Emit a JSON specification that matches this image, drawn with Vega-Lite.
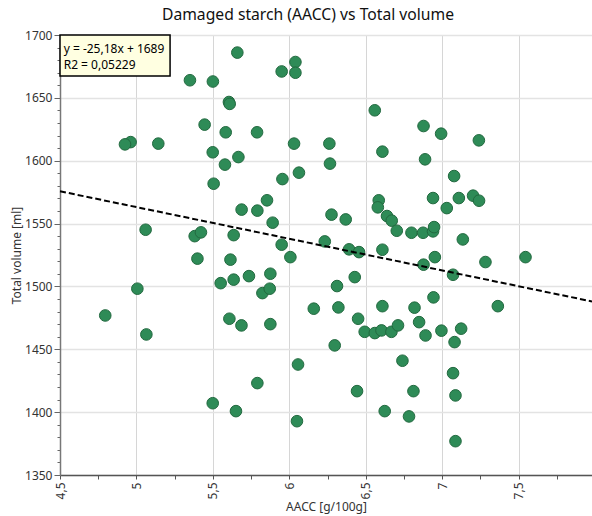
{
  "$schema": "https://vega.github.io/schema/vega-lite/v6.json",
  "width": 532,
  "height": 440,
  "autosize": {"type": "none"},
  "padding": {"left": 60, "top": 35, "right": 0, "bottom": 41},
  "title": {
    "text": "Damaged starch (AACC) vs Total volume",
    "fontSize": 15.7,
    "fontWeight": "normal",
    "color": "#111111",
    "dx": -18,
    "offset": 5
  },
  "config": {
    "view": {"stroke": null},
    "font": "Noto Sans",
    "axis": {"labelOverlap": false, "labelBound": false, "labelFlush": false}
  },
  "datasets": {
    "samples": [
      {"aacc": 5.66, "volume": 1686}, {"aacc": 6.04, "volume": 1678.5}, {"aacc": 5.95, "volume": 1671},
      {"aacc": 6.04, "volume": 1670}, {"aacc": 5.35, "volume": 1664}, {"aacc": 5.50, "volume": 1663},
      {"aacc": 5.605, "volume": 1646.7}, {"aacc": 5.61, "volume": 1645.2}, {"aacc": 5.446, "volume": 1628.7},
      {"aacc": 5.584, "volume": 1622.6}, {"aacc": 5.789, "volume": 1622.6}, {"aacc": 4.962, "volume": 1614.8},
      {"aacc": 4.925, "volume": 1613}, {"aacc": 5.143, "volume": 1613.6}, {"aacc": 6.031, "volume": 1613.6},
      {"aacc": 5.499, "volume": 1606.7}, {"aacc": 5.667, "volume": 1602.9}, {"aacc": 5.579, "volume": 1596.9},
      {"aacc": 6.063, "volume": 1590.5}, {"aacc": 5.955, "volume": 1585.4}, {"aacc": 5.505, "volume": 1581.7},
      {"aacc": 5.854, "volume": 1568.5}, {"aacc": 5.688, "volume": 1561.1}, {"aacc": 5.791, "volume": 1560.3},
      {"aacc": 5.891, "volume": 1550.7}, {"aacc": 5.06, "volume": 1545.1}, {"aacc": 5.381, "volume": 1540},
      {"aacc": 5.422, "volume": 1543}, {"aacc": 5.636, "volume": 1540.8}, {"aacc": 5.95, "volume": 1533.2},
      {"aacc": 6.559, "volume": 1640.1}, {"aacc": 6.878, "volume": 1627.6}, {"aacc": 6.993, "volume": 1621.5},
      {"aacc": 7.24, "volume": 1616.2}, {"aacc": 6.262, "volume": 1613.6}, {"aacc": 6.609, "volume": 1607.2},
      {"aacc": 6.266, "volume": 1597.7}, {"aacc": 6.888, "volume": 1601.1}, {"aacc": 7.078, "volume": 1587.8},
      {"aacc": 6.585, "volume": 1568.5}, {"aacc": 6.579, "volume": 1562.9}, {"aacc": 6.94, "volume": 1570.3},
      {"aacc": 7.109, "volume": 1570.3}, {"aacc": 7.202, "volume": 1572.2}, {"aacc": 7.241, "volume": 1568.2},
      {"aacc": 7.03, "volume": 1562.3}, {"aacc": 6.276, "volume": 1557.1}, {"aacc": 6.369, "volume": 1553.3},
      {"aacc": 6.639, "volume": 1556}, {"aacc": 6.67, "volume": 1552.3}, {"aacc": 6.703, "volume": 1544.3},
      {"aacc": 6.799, "volume": 1542.7}, {"aacc": 6.875, "volume": 1542.7}, {"aacc": 6.94, "volume": 1543.8},
      {"aacc": 6.947, "volume": 1547.2}, {"aacc": 7.135, "volume": 1537.4}, {"aacc": 6.232, "volume": 1535.8},
      {"aacc": 6.391, "volume": 1529.5}, {"aacc": 6.456, "volume": 1527.3}, {"aacc": 6.609, "volume": 1529.2},
      {"aacc": 5.399, "volume": 1522.1}, {"aacc": 5.615, "volume": 1521.3}, {"aacc": 6.007, "volume": 1523.3},
      {"aacc": 5.736, "volume": 1508.2}, {"aacc": 5.876, "volume": 1510.1}, {"aacc": 5.551, "volume": 1502.6},
      {"aacc": 5.636, "volume": 1505.4}, {"aacc": 5.006, "volume": 1498.2}, {"aacc": 5.824, "volume": 1494.7},
      {"aacc": 5.872, "volume": 1498.2}, {"aacc": 4.796, "volume": 1476.9}, {"aacc": 6.16, "volume": 1482.3},
      {"aacc": 5.608, "volume": 1474.3}, {"aacc": 5.687, "volume": 1469}, {"aacc": 5.876, "volume": 1470},
      {"aacc": 5.065, "volume": 1461.8}, {"aacc": 6.057, "volume": 1437.9}, {"aacc": 5.791, "volume": 1423.1},
      {"aacc": 5.499, "volume": 1407.1}, {"aacc": 5.651, "volume": 1400.8}, {"aacc": 6.05, "volume": 1392.8},
      {"aacc": 6.952, "volume": 1523.3}, {"aacc": 6.878, "volume": 1517.3}, {"aacc": 7.071, "volume": 1509.3},
      {"aacc": 7.283, "volume": 1519.4}, {"aacc": 7.545, "volume": 1523.3}, {"aacc": 6.428, "volume": 1507.4},
      {"aacc": 6.312, "volume": 1500.3}, {"aacc": 6.321, "volume": 1483.3}, {"aacc": 6.609, "volume": 1484.3},
      {"aacc": 6.819, "volume": 1483.1}, {"aacc": 6.943, "volume": 1491.3}, {"aacc": 7.364, "volume": 1484.3},
      {"aacc": 6.45, "volume": 1474.3}, {"aacc": 6.493, "volume": 1463.9}, {"aacc": 6.559, "volume": 1462.9},
      {"aacc": 6.603, "volume": 1465}, {"aacc": 6.668, "volume": 1463.9}, {"aacc": 6.711, "volume": 1469},
      {"aacc": 6.849, "volume": 1471.6}, {"aacc": 6.891, "volume": 1461}, {"aacc": 6.995, "volume": 1464.8},
      {"aacc": 7.124, "volume": 1466.4}, {"aacc": 7.081, "volume": 1455.7}, {"aacc": 6.297, "volume": 1453.1},
      {"aacc": 6.74, "volume": 1440.9}, {"aacc": 7.071, "volume": 1431}, {"aacc": 6.443, "volume": 1416.7},
      {"aacc": 6.812, "volume": 1416.7}, {"aacc": 7.087, "volume": 1413.3}, {"aacc": 6.624, "volume": 1400.8},
      {"aacc": 6.783, "volume": 1396.6}, {"aacc": 7.087, "volume": 1376.9}
    ],
    "trend": [
      {"aacc": 4.5, "volume": 1575.69},
      {"aacc": 7.98, "volume": 1488.06}
    ],
    "equationBox": [
      {"aacc": 4.5, "aacc2": 5.22, "volume": 1700, "volume2": 1667.4}
    ],
    "equationText": [
      {"aacc": 4.524, "volume": 1689.0, "label": "y = -25,18x + 1689"},
      {"aacc": 4.524, "volume": 1676.3, "label": "R2 = 0,05229"}
    ]
  },
  "layer": [
    {
      "data": {"name": "samples"},
      "mark": {"type": "circle", "size": 135, "fill": "#2e8b57", "stroke": "#22693f", "strokeWidth": 1, "opacity": 1},
      "encoding": {
        "x": {
          "field": "aacc",
          "type": "quantitative",
          "scale": {"domain": [4.5, 7.98], "nice": false, "zero": false},
          "axis": {
            "title": "AACC [g/100g]",
            "titleFontSize": 12,
            "titleFontWeight": "normal",
            "titleColor": "#333333",
            "titlePadding": 3,
            "tickCount": 100,
            "values": [4.5, 4.75, 5, 5.25, 5.5, 5.75, 6, 6.25, 6.5, 6.75, 7, 7.25, 7.5, 7.75],
            "labelExpr": "(datum.value * 4) % 2 == 1 ? '' : replace(format(datum.value, '.1~f'), '.', ',')",
            "labelAngle": 270,
            "labelFontSize": 12,
            "labelColor": "#333333",
            "labelPadding": 3,
            "tickSize": 4,
            "tickColor": "#555555",
            "domainColor": "#555555",
            "domainWidth": 1.5,
            "grid": true,
            "gridColor": "#d6d6d6",
            "gridWidth": 1,
            "gridOpacity": {"condition": {"test": "(datum.value * 4) % 2 == 1", "value": 0}, "value": 1}
          }
        },
        "y": {
          "field": "volume",
          "type": "quantitative",
          "scale": {"domain": [1350, 1700], "nice": false, "zero": false},
          "axis": {
            "title": "Total volume [ml]",
            "titleFontSize": 12,
            "titleFontWeight": "normal",
            "titleColor": "#333333",
            "titlePadding": 1,
            "tickCount": 100,
            "values": [1350, 1360, 1370, 1380, 1390, 1400, 1410, 1420, 1430, 1440, 1450, 1460, 1470, 1480, 1490, 1500, 1510, 1520, 1530, 1540, 1550, 1560, 1570, 1580, 1590, 1600, 1610, 1620, 1630, 1640, 1650, 1660, 1670, 1680, 1690, 1700],
            "labelExpr": "datum.value % 50 == 0 ? format(datum.value, 'd') : ''",
            "labelFontSize": 12,
            "labelColor": "#333333",
            "labelPadding": 2,
            "tickSize": {"condition": {"test": "datum.value % 50 != 0", "value": 3}, "value": 6},
            "tickColor": "#666666",
            "domainColor": "#777777",
            "domainWidth": 1.5,
            "grid": true,
            "gridColor": "#e3e3e3",
            "gridWidth": 1.5,
            "gridOpacity": {"condition": {"test": "datum.value % 50 != 0", "value": 0}, "value": 1}
          }
        }
      }
    },
    {
      "data": {"name": "trend"},
      "mark": {"type": "line", "color": "#000000", "strokeWidth": 2, "strokeDash": [6, 3]},
      "encoding": {
        "x": {"field": "aacc", "type": "quantitative"},
        "y": {"field": "volume", "type": "quantitative"}
      }
    },
    {
      "data": {"name": "equationBox"},
      "mark": {"type": "rect", "fill": "#ffffe1", "stroke": "#000000", "strokeWidth": 1.5},
      "encoding": {
        "x": {"field": "aacc", "type": "quantitative"},
        "x2": {"field": "aacc2"},
        "y": {"field": "volume", "type": "quantitative"},
        "y2": {"field": "volume2"}
      }
    },
    {
      "data": {"name": "equationText"},
      "mark": {"type": "text", "align": "left", "baseline": "middle", "fontSize": 12, "color": "#000000"},
      "encoding": {
        "x": {"field": "aacc", "type": "quantitative"},
        "y": {"field": "volume", "type": "quantitative"},
        "text": {"field": "label"}
      }
    }
  ]
}
